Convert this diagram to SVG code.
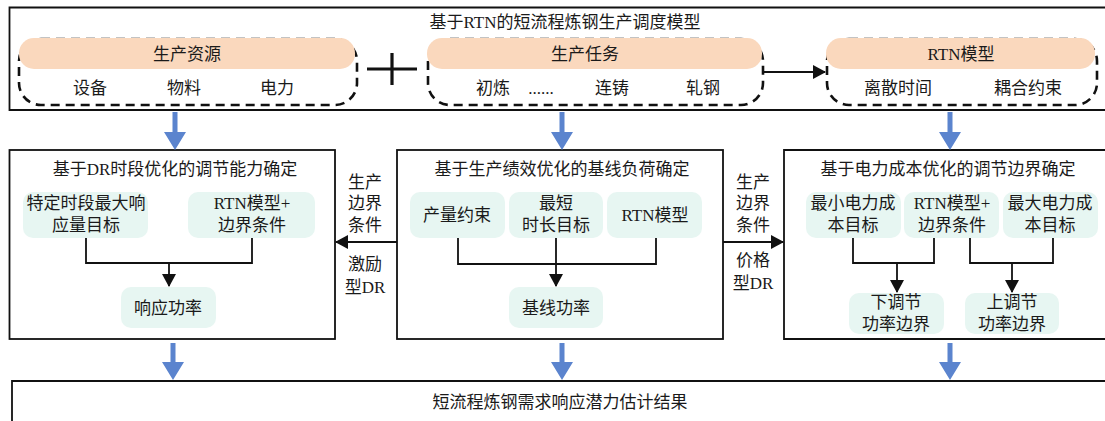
<svg xmlns="http://www.w3.org/2000/svg" width="1105" height="421" viewBox="0 0 1105 421">
<style>
text{font-family:"Liberation Serif","Noto Sans CJK SC",serif;font-size:17px;fill:#1a1a1a;text-anchor:middle;dominant-baseline:central}
.frame{fill:none;stroke:#111;stroke-width:1.8}
.dash{fill:none;stroke:#111;stroke-width:2.6;stroke-dasharray:9 6}
.pill{fill:#FAD8BD}
.cell{fill:#E7F6F2}
.ln{fill:none;stroke:#111;stroke-width:1.8}
.blue{fill:#5B84CE}
</style>
<defs>
<marker id="ah" markerWidth="14" markerHeight="14" refX="12" refY="7" orient="auto" markerUnits="userSpaceOnUse">
<path d="M0,0 L13,7 L0,14 Z" fill="#111"/>
</marker>
</defs>
<rect width="1105" height="421" fill="#fff"/>

<g id="top-frame">
<path class="frame" d="M1110,7.5 H9.5 V110 H1110"/>
<text x="565" y="22">基于RTN的短流程炼钢生产调度模型</text>
</g>

<g id="resources">
<rect class="dash" x="19" y="39" width="338" height="66" rx="22"/>
<rect class="pill" x="19" y="38" width="336" height="31" rx="15"/>
<text x="187" y="54">生产资源</text>
<text x="90" y="88">设备</text>
<text x="184" y="88">物料</text>
<text x="277" y="88">电力</text>
</g>

<g id="plus">
<path d="M367,69 H417 M392,53 V85" stroke="#111" stroke-width="3.2" fill="none"/>
</g>

<g id="tasks">
<rect class="dash" x="428" y="39" width="335" height="66" rx="22"/>
<rect class="pill" x="427" y="38" width="335" height="31" rx="15"/>
<text x="585" y="54">生产任务</text>
<text x="493" y="88">初炼</text>
<text x="541" y="88">......</text>
<text x="612" y="88">连铸</text>
<text x="703" y="88">轧钢</text>
</g>

<g id="rtn">
<rect class="dash" x="827" y="39" width="270" height="66" rx="22"/>
<rect class="pill" x="826" y="38" width="269" height="31" rx="15"/>
<text x="961" y="54">RTN模型</text>
<text x="898" y="88">离散时间</text>
<text x="1028" y="88">耦合约束</text>
</g>

<g id="left-box">
<rect class="frame" x="9.5" y="150" width="325.5" height="189"/>
<text x="175" y="169">基于DR时段优化的调节能力确定</text>
<rect class="cell" x="23" y="192" width="125" height="46" rx="10"/>
<text x="86" y="203">特定时段最大响</text>
<text x="86" y="225">应量目标</text>
<rect class="cell" x="188" y="192" width="127" height="46" rx="10"/>
<text x="252" y="203">RTN模型+</text>
<text x="252" y="225">边界条件</text>
<rect class="cell" x="121" y="287" width="95" height="41" rx="10"/>
<text x="168" y="308">响应功率</text>
</g>

<g id="middle-box">
<rect class="frame" x="397" y="150" width="326" height="189"/>
<text x="562" y="169">基于生产绩效优化的基线负荷确定</text>
<rect class="cell" x="410" y="192" width="95" height="46" rx="10"/>
<text x="457" y="215">产量约束</text>
<rect class="cell" x="509" y="192" width="94" height="46" rx="10"/>
<text x="556" y="203">最短</text>
<text x="556" y="225">时长目标</text>
<rect class="cell" x="607" y="192" width="95" height="46" rx="10"/>
<text x="655" y="215">RTN模型</text>
<rect class="cell" x="509" y="287" width="94" height="41" rx="10"/>
<text x="556" y="308">基线功率</text>
</g>

<g id="right-box">
<path class="frame" d="M1110,150 H784 V339 H1110"/>
<text x="948" y="169">基于电力成本优化的调节边界确定</text>
<rect class="cell" x="806" y="192" width="95" height="46" rx="10"/>
<text x="853" y="203">最小电力成</text>
<text x="853" y="225">本目标</text>
<rect class="cell" x="904" y="192" width="95" height="46" rx="10"/>
<text x="952" y="203">RTN模型+</text>
<text x="952" y="225">边界条件</text>
<rect class="cell" x="1003" y="192" width="95" height="46" rx="10"/>
<text x="1050" y="203">最大电力成</text>
<text x="1050" y="225">本目标</text>
<rect class="cell" x="849" y="293" width="95" height="41" rx="10"/>
<text x="896" y="302">下调节</text>
<text x="896" y="324">功率边界</text>
<rect class="cell" x="965" y="293" width="94" height="41" rx="10"/>
<text x="1012" y="302">上调节</text>
<text x="1012" y="324">功率边界</text>
</g>

<g id="result-box">
<path class="frame" d="M1110,381 H12 V430"/>
<text x="560" y="402">短流程炼钢需求响应潜力估计结果</text>
</g>

<g id="connectors">
<line class="ln" x1="763" y1="72" x2="825" y2="72" marker-end="url(#ah)"/>
<path class="ln" d="M86,238 V263 H252 V238"/>
<line class="ln" x1="169" y1="263" x2="169" y2="286" marker-end="url(#ah)"/>
<path class="ln" d="M458,238 V264 H656 V238"/>
<line class="ln" x1="556" y1="238" x2="556" y2="286" marker-end="url(#ah)"/>
<path class="ln" d="M853,238 V263 H934 V238"/>
<line class="ln" x1="897" y1="263" x2="897" y2="292" marker-end="url(#ah)"/>
<path class="ln" d="M970,238 V263 H1053 V238"/>
<line class="ln" x1="1012" y1="263" x2="1012" y2="292" marker-end="url(#ah)"/>
<line class="ln" x1="397" y1="242" x2="336" y2="242" marker-end="url(#ah)"/>
<line class="ln" x1="723" y1="242" x2="783" y2="242" marker-end="url(#ah)"/>
<text x="365" y="182">生产</text>
<text x="365" y="203">边界</text>
<text x="365" y="225">条件</text>
<text x="365" y="264">激励</text>
<text x="365" y="287">型DR</text>
<text x="753" y="182">生产</text>
<text x="753" y="203">边界</text>
<text x="753" y="225">条件</text>
<text x="753" y="260">价格</text>
<text x="753" y="283">型DR</text>
<path class="blue" d="M172.5,112 H177.5 V132 H186 L175,150 L164,132 H172.5 Z"/>
<path class="blue" d="M559.5,112 H564.5 V132 H573 L562,150 L551,132 H559.5 Z"/>
<path class="blue" d="M947.5,112 H952.5 V132 H961 L950,150 L939,132 H947.5 Z"/>
<path class="blue" d="M170.5,343 H175.5 V362 H184 L173,380 L162,362 H170.5 Z"/>
<path class="blue" d="M559.5,343 H564.5 V362 H573 L562,380 L551,362 H559.5 Z"/>
<path class="blue" d="M947.5,343 H952.5 V362 H961 L950,380 L939,362 H947.5 Z"/>
</g>
</svg>
